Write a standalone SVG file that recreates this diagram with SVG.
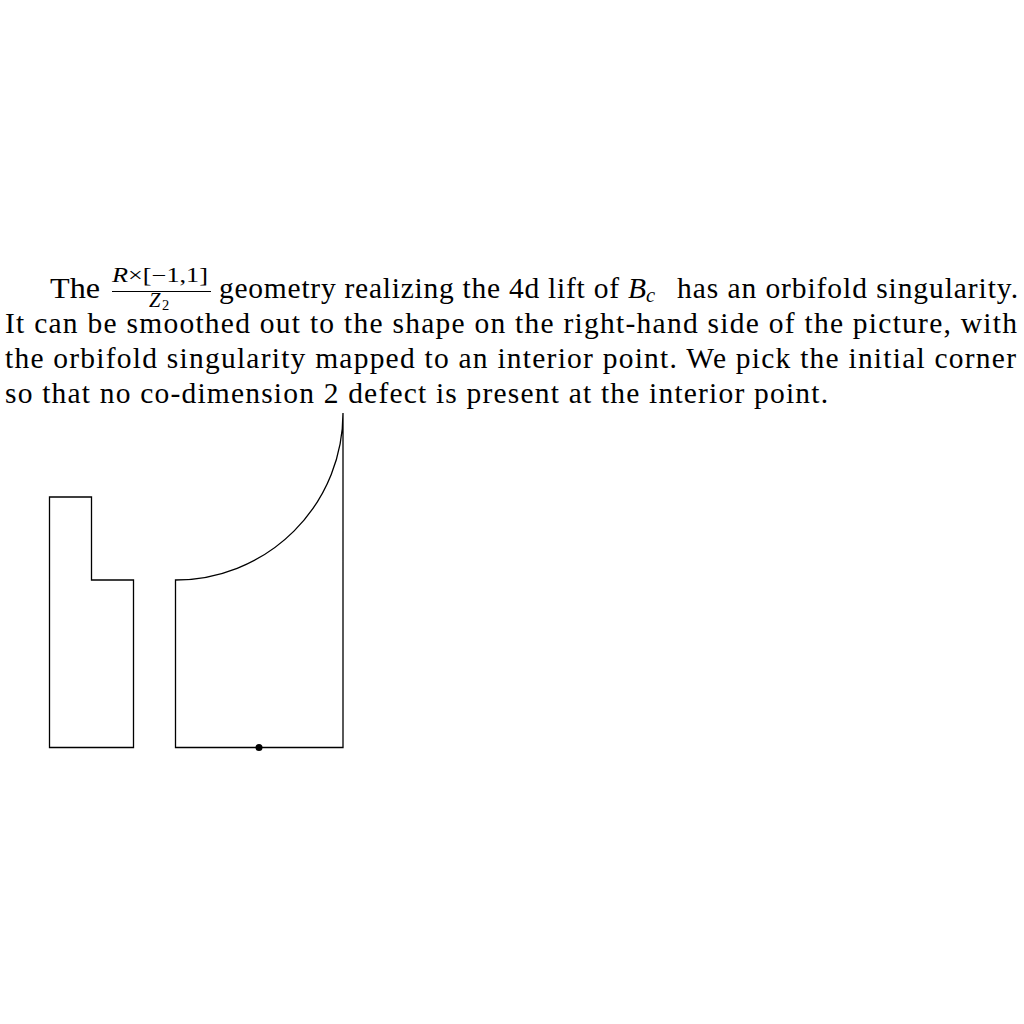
<svg xmlns="http://www.w3.org/2000/svg" width="1024" height="1024" viewBox="0 0 1024 1024">
<style>
.t{font-family:"Liberation Serif","Times New Roman",serif;font-size:29.5px;fill:#000}
.s{font-family:"Liberation Serif","Times New Roman",serif;font-size:20.5px;fill:#000}
.i{font-style:italic}
.ln{fill:none;stroke:#000;stroke-width:1.3}
</style>
<rect width="1024" height="1024" fill="#fff"/>
<g id="caption">
<text class="t" x="50" y="297.5" textLength="50" lengthAdjust="spacingAndGlyphs">The</text>
<text class="s" x="112" y="282" textLength="96" lengthAdjust="spacingAndGlyphs"><tspan class="i">R</tspan>×[−1,1]</text>
<line x1="112" y1="291.5" x2="211" y2="291.5" stroke="#000" stroke-width="1.2"/>
<text class="s" x="149" y="306.5"><tspan class="i">Z</tspan><tspan font-size="14.5" dx="1.5" dy="3.5">2</tspan></text>
<text class="t" x="219" y="297.5" textLength="400" lengthAdjust="spacing">geometry realizing the 4d lift of</text>
<text class="t" x="628" y="297.5"><tspan class="i">B</tspan><tspan class="i" font-size="20.5" dy="4.5">c</tspan></text>
<text class="t" x="677" y="297.5" textLength="341" lengthAdjust="spacing">has an orbifold singularity.</text>
<text class="t" x="5" y="332.5" textLength="1012" lengthAdjust="spacing">It can be smoothed out to the shape on the right-hand side of the picture, with</text>
<text class="t" x="5" y="367.5" textLength="1011" lengthAdjust="spacing">the orbifold singularity mapped to an interior point. We pick the initial corner</text>
<text class="t" x="5" y="402.5" textLength="823" lengthAdjust="spacing">so that no co-dimension 2 defect is present at the interior point.</text>
</g>
<g id="left-shape">
<polygon class="ln" points="49.5,497 91.5,497 91.5,580 133.5,580 133.5,747.5 49.5,747.5"/>
</g>
<g id="right-shape">
<path class="ln" d="M343,413 L343,747.5 L175.5,747.5 L175.5,580 A167.5,167 0 0 0 343,413"/>
<circle id="interior-point" cx="259" cy="747.5" r="3.5" fill="#000"/>
</g>
</svg>
